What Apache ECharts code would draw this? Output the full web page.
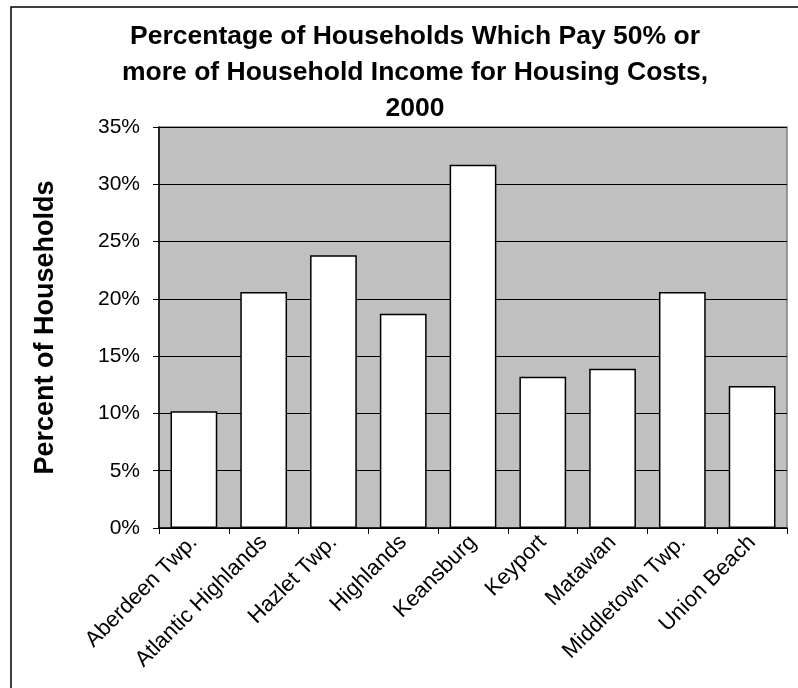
<!DOCTYPE html>
<html>
<head>
<meta charset="utf-8">
<script src="https://cdn.jsdelivr.net/npm/echarts@6/dist/echarts.min.js"></script>
<style>
html, body { margin: 0; padding: 0; background: #fff; }
#main { width: 798px; height: 688px; }
</style>
</head>
<body>
<div id="main"></div>
<script>
// towns and share of households paying 50%+ of income for housing
var towns = ['Aberdeen Twp.', 'Atlantic Highlands', 'Hazlet Twp.', 'Highlands', 'Keansburg',
    'Keyport', 'Matawan', 'Middletown Twp.', 'Union Beach'];
var pct = [10.2, 20.6, 23.8, 18.7, 31.7, 13.2, 13.9, 20.6, 12.4];
var yTicks = [0, 5, 10, 15, 20, 25, 30, 35];

var font = '"Liberation Sans", Arial, sans-serif';
var myChart = echarts.init(document.getElementById('main'));

var option = {
    animation: false,
    title: {
        text: 'Percentage of Households Which Pay 50% or\nmore of Household Income for Housing Costs,\n2000',
        left: 410,
        textAlign: 'center',
        top: 14,
        textStyle: {
            color: '#000',
            fontFamily: font,
            fontWeight: 'bold',
            fontSize: 26.5,
            lineHeight: 36
        }
    },
    graphic: [{
        type: 'rect',
        shape: { x: 11, y: 7, width: 820, height: 720 },
        style: { fill: 'none', stroke: '#000', lineWidth: 1.5 },
        silent: true
    }],
    grid: {
        left: 159,
        right: 11,
        top: 127,
        bottom: 160,
        show: true,
        backgroundColor: '#C0C0C0',
        borderColor: '#808080',
        borderWidth: 1.5
    },
    xAxis: {
        type: 'category',
        data: towns,
        axisLine: { lineStyle: { color: '#000', width: 1.5 } },
        axisTick: { show: true, length: 6, lineStyle: { color: '#000' } },
        axisLabel: {
            interval: 0,
            rotate: 45,
            margin: 11,
            color: '#000',
            fontFamily: font,
            fontSize: 22
        }
    },
    yAxis: {
        type: 'value',
        min: yTicks[0],
        max: yTicks[yTicks.length - 1],
        interval: 5,
        name: 'Percent of Households',
        nameLocation: 'middle',
        nameGap: 100,
        nameTextStyle: {
            color: '#000',
            fontFamily: font,
            fontWeight: 'bold',
            fontSize: 27
        },
        axisLine: { show: true, lineStyle: { color: '#000', width: 1.5 } },
        axisTick: { show: true, length: 6, lineStyle: { color: '#000' } },
        axisLabel: {
            formatter: '{value}%',
            margin: 19,
            color: '#000',
            fontFamily: font,
            fontSize: 21
        },
        splitLine: { lineStyle: { color: '#000', width: 1 } }
    },
    series: [{
        type: 'bar',
        data: pct,
        barCategoryGap: '33%',
        itemStyle: {
            color: '#fff',
            borderColor: '#000',
            borderWidth: 1.5
        }
    }]
};

myChart.setOption(option);
</script>
</body>
</html>
